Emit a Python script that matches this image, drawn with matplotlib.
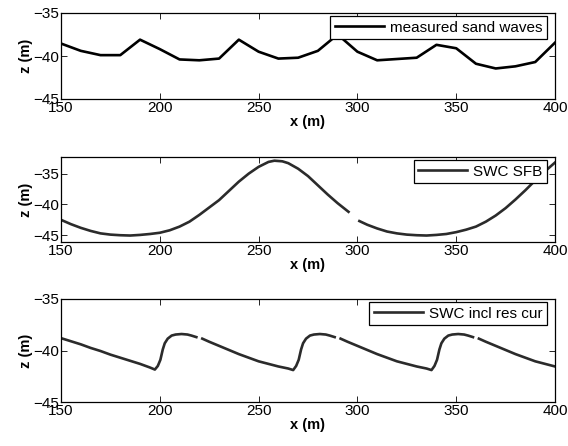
import numpy as np
import matplotlib.pyplot as plt

plt.rcParams['font.family'] = ['Liberation Sans', 'DejaVu Sans']
plt.rcParams['font.size'] = 11

# measured bed profile, every 10 m
x_meas = [150, 160, 170, 180, 190, 200, 210, 220, 230, 240, 250, 260, 270,
          280, 290, 300, 310, 320, 330, 340, 350, 360, 370, 380, 390, 400]
z_meas = [-38.55, -39.4, -39.9, -39.9, -38.1, -39.2, -40.4, -40.5, -40.3,
          -38.1, -39.5, -40.3, -40.2, -39.4, -37.5, -39.5, -40.5, -40.35,
          -40.2, -38.7, -39.1, -40.9, -41.45, -41.2, -40.7, -38.45]

# SWC SFB model (nan = break in the line)
x_sfb = [150, 155, 160, 165, 170, 175, 180, 185, 190, 195, 200, 205, 210,
         215, 220, 225, 230, 235, 240, 245, 250, 255, 258, 262, 265, 270,
         275, 280, 285, 290, 295.5, np.nan,
         301, 305, 310, 315, 320, 325, 330, 335, 340, 345, 350, 355, 360,
         365, 370, 375, 380, 385, 390, 395, 400]
z_sfb = [-42.5, -43.2, -43.8, -44.3, -44.7, -44.9, -45.0, -45.05, -44.95,
         -44.8, -44.6, -44.2, -43.6, -42.8, -41.7, -40.5, -39.3, -37.8,
         -36.3, -35.0, -33.9, -33.1, -32.9, -33.0, -33.3, -34.2, -35.4,
         -36.9, -38.4, -39.8, -41.2, np.nan,
         -42.7, -43.3, -43.9, -44.4, -44.7, -44.9, -45.0, -45.05, -44.95,
         -44.8, -44.5, -44.1, -43.6, -42.8, -41.8, -40.6, -39.2, -37.7,
         -36.1, -34.6, -33.2]

# SWC including residual current
x_res = [150, 155, 160, 165, 170, 175, 180, 185, 190, 195, 197.5,
         199, 200.3, 201.5, 202.5, 204, 206, 208, 211, 214, 216, 218.5, np.nan,
         221.5, 225, 230, 235, 240, 245, 250, 255, 260, 265, 267.5,
         269, 270.3, 271.5, 272.5, 274, 276, 278, 281, 284, 286, 288.5, np.nan,
         291.5, 295, 300, 305, 310, 315, 320, 325, 330, 335, 337.5,
         339, 340.3, 341.5, 342.5, 344, 346, 348, 351, 354, 356, 358.5, np.nan,
         361.5, 365, 370, 375, 380, 385, 390, 395, 400]
z_res = [-38.8, -39.1, -39.4, -39.75, -40.05, -40.4, -40.7, -41.0, -41.3,
         -41.65, -41.85,
         -41.5, -40.9, -39.9, -39.3, -38.85, -38.55, -38.45, -38.4, -38.45,
         -38.55, -38.7, np.nan,
         -38.85, -39.15, -39.55, -39.95, -40.35, -40.7, -41.05, -41.3, -41.55,
         -41.75, -41.9,
         -41.5, -40.9, -39.9, -39.3, -38.85, -38.55, -38.45, -38.4, -38.45,
         -38.55, -38.7, np.nan,
         -38.85, -39.15, -39.55, -39.95, -40.35, -40.7, -41.05, -41.3, -41.55,
         -41.75, -41.9,
         -41.5, -40.9, -39.9, -39.3, -38.85, -38.55, -38.45, -38.4, -38.45,
         -38.55, -38.7, np.nan,
         -38.85, -39.15, -39.55, -39.95, -40.35, -40.7, -41.05, -41.3, -41.55]

W, H = 568, 446
left, right = 61, 555
# (top, bottom) of each panel in pixels
rows = [(13, 99), (157, 242), (299, 402)]

fig = plt.figure(figsize=(W / 100, H / 100), dpi=100)
axes = [fig.add_axes([left / W, 1 - b / H, (right - left) / W, (b - t) / H])
        for t, b in rows]
ax1, ax2, ax3 = axes

ax1.plot(x_meas, z_meas, color='black', lw=1.9, label='measured sand waves')
ax2.plot(x_sfb, z_sfb, color='#2b2b2b', lw=1.9, label='SWC SFB')
ax3.plot(x_res, z_res, color='#2b2b2b', lw=1.9, label='SWC incl res cur')

ax1.set_ylim(-45, -35)
ax2.set_ylim(-46.1, -32.3)
ax3.set_ylim(-45, -35)

for ax, (t, b) in zip(axes, rows):
    ax.set_xlim(150, 400)
    ax.set_xticks([150, 200, 250, 300, 350, 400])
    ax.set_yticks([-45, -40, -35])
    ax.set_yticklabels(['\u221245', '\u221240', '\u221235'])
    ax.tick_params(direction='in', top=True, right=True, length=4,
                   width=0.6, labelsize=11, pad=1.5)
    for s in ax.spines.values():
        s.set_linewidth(0.9)
    ax.set_xlabel('x (m)', fontweight='bold', fontsize=10.5, labelpad=0)
    ax.set_ylabel('z (m)', fontweight='bold', fontsize=10.5, labelpad=0)
    anchor = (1 - 8 / (right - left), 1 - 3 / (b - t))
    leg = ax.legend(loc='upper right', bbox_to_anchor=anchor,
                    borderaxespad=0, handlelength=3.2, fancybox=False,
                    framealpha=1, edgecolor='black', fontsize=11,
                    borderpad=0.3, handletextpad=0.4)
    leg.get_frame().set_linewidth(0.9)

fig.savefig('out.png', dpi=100)
